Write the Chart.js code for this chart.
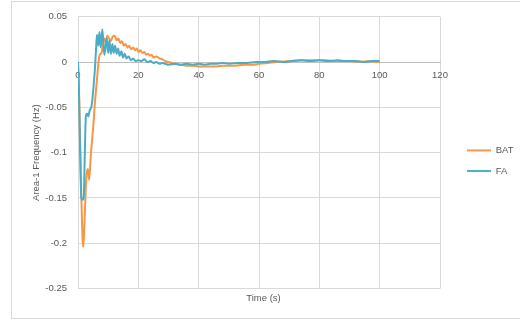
<!DOCTYPE html>
<html>
<head>
<meta charset="utf-8">
<script src="https://cdn.jsdelivr.net/npm/chart.js@4.4.1/dist/chart.umd.min.js"></script>
<style>
    body { margin: 0; background: #fff; }
    #wrap { position: relative; width: 520px; height: 324px; }
    #frame { position: absolute; left: 11px; top: 1px; width: 509px; height: 318px; border: 1px solid #d9d9d9; border-right: none; box-sizing: border-box; }
    canvas { position: absolute; left: 0; top: 0; }
</style>
</head>
<body>
<div id="wrap">
    <div id="frame"></div>
    <canvas id="freqChart"></canvas>
</div>
<script>
// Series names
const seriesNames = ['BAT', 'FA'];

// BAT series (time in s, frequency deviation in Hz)
const batTime = [0, 0.4, 0.8, 1.2, 1.5, 1.7, 2.0, 2.4, 2.8, 3.3, 3.7, 4.2, 4.7, 5.2, 5.6, 6.0, 6.4, 6.8,
    7.2, 7.8, 8.3, 8.8, 9.2, 9.7, 10.3, 10.9, 11.5, 12.2, 12.8, 13.4, 14.0, 14.6, 15.2, 15.8, 16.4,
    17.0, 17.6, 18.3, 18.9, 19.5, 20.1, 20.7, 21.4, 22.0, 22.6, 23.2, 23.8, 24.4, 25, 26, 27, 28, 29,
    30, 31, 32, 34, 36, 38, 40, 42, 44, 46, 48, 50, 52, 55, 58, 60, 63, 66, 70, 74, 78, 82, 86, 90, 94, 97, 100];
const batValues = [0, -0.04, -0.105, -0.16, -0.195, -0.204, -0.19, -0.155, -0.125, -0.118, -0.13, -0.105,
    -0.085, -0.065, -0.045, -0.03, -0.015, 0.0,
    0.008, 0.01, 0.022, 0.026, 0.021, 0.029, 0.026, 0.023, 0.028, 0.029, 0.024, 0.026, 0.021, 0.023, 0.018, 0.02, 0.016,
    0.018, 0.014, 0.016, 0.013, 0.015, 0.011, 0.013, 0.01, 0.011, 0.008, 0.009, 0.007, 0.008, 0.005, 0.006, 0.004, 0.003, 0.001,
    0.0, -0.001, -0.002, -0.003, -0.004, -0.004, -0.005, -0.005, -0.005, -0.005, -0.004, -0.004, -0.004, -0.003, -0.003,
    -0.002, -0.001, 0.0, 0.001, 0.002, 0.002, 0.002, 0.001, 0.001, 0.0, 0.001, 0.0];

// FA series
const faTime = [0, 0.3, 0.6, 0.9, 1.1, 1.5, 1.9, 2.2, 2.6, 3.0, 3.4, 3.9, 4.4, 4.8, 5.2, 5.6, 6.0, 6.3,
    6.7, 7.1, 7.5, 7.8, 8.1, 8.7, 9.0, 9.5, 10.0, 10.4, 10.9, 11.4, 11.8, 12.3, 12.8, 13.3, 13.8, 14.4,
    14.9, 15.5, 16.1, 16.8, 17.5, 18.3, 19.1, 20, 21, 22, 23, 24, 25, 26, 27, 28, 29, 30, 32, 34, 36,
    38, 40, 42, 44, 46, 48, 50, 53, 56, 59, 62, 65, 68, 71, 74, 77, 80, 83, 86, 89, 92, 95, 98, 100];
const faValues = [0, -0.03, -0.08, -0.13, -0.15, -0.152, -0.15, -0.11, -0.06, -0.057, -0.06, -0.053,
    -0.05, -0.04, -0.025, -0.008, 0.015, 0.03,
    0.018, 0.033, 0.016, 0.028, 0.036, 0.008, 0.013, 0.026, 0.01, 0.024, 0.009, 0.02, 0.01, 0.018, 0.009, 0.015,
    0.007, 0.012,
    0.005, 0.009, 0.004, 0.006, 0.002, 0.004, 0.001, 0.002, 0.001, 0.003, 0.0, 0.001, -0.001, 0.0, -0.002, -0.001,
    -0.002, -0.003, -0.002, -0.003, -0.002,
    -0.003, -0.002, -0.003, -0.002, -0.002, -0.001, -0.002, -0.001, -0.001, 0.0, 0.0, 0.001, 0.0, 0.001, 0.002,
    0.001, 0.002, 0.001, 0.002, 0.001, 0.001, 0.0, 0.001, 0.001];

// Axis ranges and titles
const xTicks = [0, 20, 40, 60, 80, 100, 120];
const yTicks = [0.05, 0, -0.05, -0.1, -0.15, -0.2, -0.25];
const xTitle = 'Time (s)';
const yTitle = 'Area-1 Frequency (Hz)';

const textColor = '#595959';
const gridColor = '#d9d9d9';
const fontFamily = '"Liberation Sans", Arial, sans-serif';

function toPoints(times, values) {
    return times.map((t, i) => ({ x: t, y: values[i] }));
}

// keep legend box a fixed width so the plot area lines up
const legendWidth = {
    id: 'legendWidth',
    beforeLayout(chart) {
        const lg = chart.legend;
        if (lg && !lg.fixedFit) {
            const fit = lg.fit;
            lg.fit = function() {
                fit.call(this);
                this.width = 59;
            };
            lg.fixedFit = true;
        }
    }
};

const ctx = document.getElementById('freqChart').getContext('2d');
new Chart(ctx, {
    type: 'line',
    data: {
        datasets: [{
            label: seriesNames[0],
            data: toPoints(batTime, batValues),
            borderColor: '#f79646',
            backgroundColor: '#f79646',
            borderWidth: 2,
            pointRadius: 0,
            cubicInterpolationMode: 'monotone',
            order: 1
        }, {
            label: seriesNames[1],
            data: toPoints(faTime, faValues),
            borderColor: '#4bacc6',
            backgroundColor: '#4bacc6',
            borderWidth: 2,
            pointRadius: 0,
            cubicInterpolationMode: 'monotone',
            order: 0
        }]
    },
    options: {
        responsive: true,
        maintainAspectRatio: false,
        animation: false,
        layout: {
            padding: { left: 12, right: 5, top: 15, bottom: 20 }
        },
        scales: {
            x: {
                type: 'linear',
                axis: 'x',
                position: { y: 0 },
                min: xTicks[0],
                max: xTicks[xTicks.length - 1],
                afterBuildTicks: function(scale) {
                    scale.ticks = xTicks.map(v => ({ value: v }));
                },
                afterFit: function(scale) {
                    scale.height = 0;
                },
                grid: { color: gridColor, drawTicks: false },
                border: { color: '#bfbfbf' },
                ticks: {
                    color: textColor,
                    padding: 8,
                    font: { family: fontFamily, size: 9.5 }
                }
            },
            y: {
                type: 'linear',
                position: 'left',
                min: -0.25,
                max: 0.05,
                afterBuildTicks: function(scale) {
                    scale.ticks = yTicks.map(v => ({ value: v }));
                },
                afterFit: function(scale) {
                    scale.width = 66;
                },
                grid: { color: gridColor, drawTicks: false },
                border: { color: gridColor },
                ticks: {
                    color: textColor,
                    padding: 11,
                    font: { family: fontFamily, size: 9.5 },
                    callback: function(value) {
                        return parseFloat(value.toFixed(2)).toString();
                    }
                },
                title: {
                    display: true,
                    text: yTitle,
                    color: textColor,
                    padding: { top: 19, bottom: 0 },
                    font: { family: fontFamily, size: 9.5 }
                }
            },
            gap: {
                type: 'linear',
                axis: 'y',
                position: 'right',
                display: true,
                afterFit: function(scale) {
                    scale.width = 16;
                },
                grid: { display: false },
                border: { display: false },
                ticks: { display: false }
            }
        },
        plugins: {
            legend: {
                position: 'right',
                title: {
                    display: true,
                    text: '',
                    padding: 0,
                    font: { size: 2 }
                },
                labels: {
                    color: textColor,
                    usePointStyle: true,
                    pointStyle: 'line',
                    pointStyleWidth: 24,
                    padding: 11,
                    font: { family: fontFamily, size: 9.5 },
                    sort: (a, b) => a.datasetIndex - b.datasetIndex
                }
            },
            title: {
                display: true,
                position: 'bottom',
                text: xTitle,
                color: textColor,
                padding: { top: 4, bottom: 0 },
                font: { family: fontFamily, size: 9.5, weight: 'normal' }
            },
            tooltip: { enabled: false }
        }
    },
    plugins: [legendWidth]
});
</script>
</body>
</html>
